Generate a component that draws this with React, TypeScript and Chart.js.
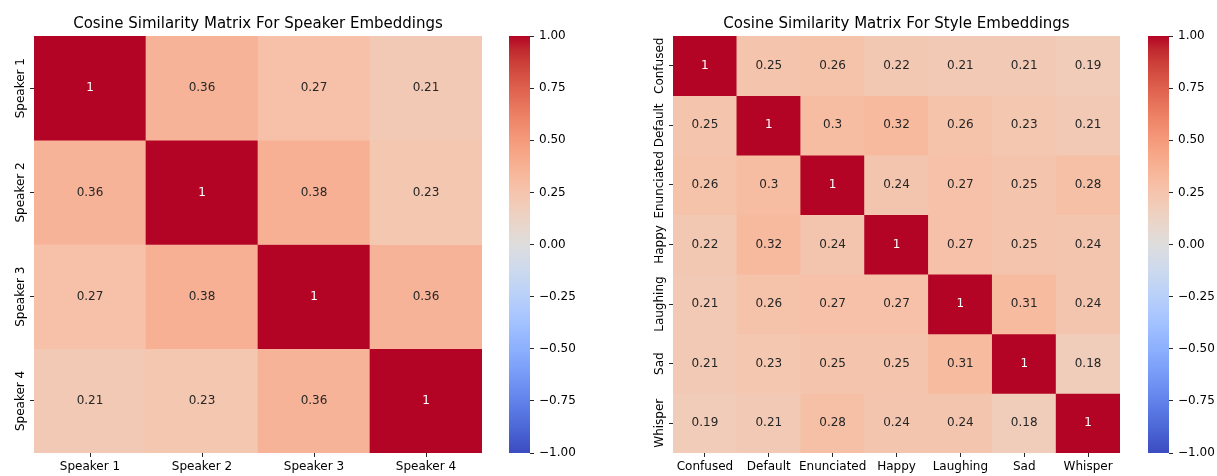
import React, { useEffect, useRef } from "react";
import { Chart, registerables } from "chart.js";

Chart.register(...registerables);

// ---- data ----
const speakerLabels = ["Speaker 1", "Speaker 2", "Speaker 3", "Speaker 4"];
const speakerSimilarity = [
  [1, 0.36, 0.27, 0.21],
  [0.36, 1, 0.38, 0.23],
  [0.27, 0.38, 1, 0.36],
  [0.21, 0.23, 0.36, 1],
];

const styleLabels = ["Confused", "Default", "Enunciated", "Happy", "Laughing", "Sad", "Whisper"];
const styleSimilarity = [
  [1, 0.25, 0.26, 0.22, 0.21, 0.21, 0.19],
  [0.25, 1, 0.3, 0.32, 0.26, 0.23, 0.21],
  [0.26, 0.3, 1, 0.24, 0.27, 0.25, 0.28],
  [0.22, 0.32, 0.24, 1, 0.27, 0.25, 0.24],
  [0.21, 0.26, 0.27, 0.27, 1, 0.31, 0.24],
  [0.21, 0.23, 0.25, 0.25, 0.31, 1, 0.18],
  [0.19, 0.21, 0.28, 0.24, 0.24, 0.18, 1],
];

const colorMin = -1;
const colorMax = 1;
const colorStep = 0.25;

// ---- styling ----
const FONT = '"DejaVu Sans", "Liberation Sans", sans-serif';
const TICK_COLOR = "#000000";
const WIDTH = 1217;
const HEIGHT = 476;

// Diverging cool-warm colour table (blue -> grey -> red), 33 evenly spaced stops
const COOLWARM: number[][] = [
  [59, 76, 192], [68, 90, 204], [77, 104, 215], [87, 117, 225],
  [98, 130, 234], [108, 142, 241], [119, 154, 247], [130, 165, 251],
  [141, 176, 254], [152, 185, 255], [163, 194, 255], [174, 201, 253],
  [184, 208, 249], [194, 213, 244], [204, 217, 238], [213, 219, 230],
  [221, 221, 221], [229, 216, 209], [236, 211, 197], [241, 204, 184],
  [245, 196, 172], [247, 187, 160], [247, 177, 148], [247, 166, 135],
  [244, 154, 123], [241, 141, 111], [236, 127, 99], [229, 112, 88],
  [222, 96, 77], [213, 80, 66], [203, 62, 56], [192, 40, 47],
  [180, 4, 38],
];

function coolwarmRGB(v: number): number[] {
  let t = (v - colorMin) / (colorMax - colorMin);
  t = Math.max(0, Math.min(1, t));
  const pos = t * (COOLWARM.length - 1);
  const i = Math.min(Math.floor(pos), COOLWARM.length - 2);
  const f = pos - i;
  const a = COOLWARM[i];
  const b = COOLWARM[i + 1];
  return [0, 1, 2].map((k) => Math.round(a[k] + (b[k] - a[k]) * f));
}

function coolwarm(v: number): string {
  const [r, g, b] = coolwarmRGB(v);
  return `rgb(${r},${g},${b})`;
}

function luminance(rgb: number[]): number {
  const lin = rgb.map((c) => {
    const s = c / 255;
    return s <= 0.03928 ? s / 12.92 : Math.pow((s + 0.055) / 1.055, 2.4);
  });
  return 0.2126 * lin[0] + 0.7152 * lin[1] + 0.0722 * lin[2];
}

// two significant digits, trailing zeros dropped
function fmtValue(v: number): string {
  return String(Number(v.toPrecision(2)));
}

function fmtColorTick(v: number): string {
  return v.toFixed(2).replace("-", "\u2212");
}

// Writes each cell's value in its centre
const cellValuesPlugin = {
  id: "cellValues",
  afterDatasetsDraw(chart: any, _args: any, opts: any) {
    const ctx = chart.ctx;
    const matrix: number[][] = opts.matrix;
    ctx.save();
    ctx.font = `12px ${FONT}`;
    ctx.textAlign = "center";
    ctx.textBaseline = "middle";
    matrix.forEach((row, r) => {
      const meta = chart.getDatasetMeta(r);
      row.forEach((v, c) => {
        const el = meta.data[c];
        if (!el) return;
        const cy = (el.y + el.base) / 2;
        ctx.fillStyle = luminance(coolwarmRGB(v)) > 0.408 ? "#262626" : "#ffffff";
        ctx.fillText(fmtValue(v), el.x, cy);
      });
    });
    ctx.restore();
  },
};

// Vertical row labels next to the y-axis tick marks
const rowLabelsPlugin = {
  id: "rowLabels",
  afterDraw(chart: any, _args: any, opts: any) {
    const scale = chart.scales.y;
    const ctx = chart.ctx;
    const labels: string[] = opts.labels;
    ctx.save();
    ctx.font = `12px ${FONT}`;
    ctx.fillStyle = TICK_COLOR;
    ctx.textAlign = "center";
    ctx.textBaseline = "alphabetic";
    const x = scale.right - 4 - opts.gap;
    scale.ticks.forEach((t: any, i: number) => {
      const py = scale.getPixelForValue(t.value);
      ctx.save();
      ctx.translate(x, py);
      ctx.rotate(-Math.PI / 2);
      ctx.fillText(labels[i], 0, 0);
      ctx.restore();
    });
    ctx.restore();
  },
};

function heatmapConfig(title: string, labels: string[], matrix: number[][], axisWidth: number, padRight: number): any {
  const n = labels.length;
  return {
    type: "bar",
    data: {
      labels,
      datasets: matrix.map((row, r) => ({
        label: labels[r],
        data: row.map(() => [r, r + 1]),
        backgroundColor: row.map((v) => coolwarm(v)),
        borderWidth: 0,
        barPercentage: 1,
        categoryPercentage: 1,
        grouped: false,
      })),
    },
    options: {
      responsive: false,
      animation: false,
      events: [],
      layout: { padding: { left: 0, right: padRight, top: 0, bottom: 0 } },
      plugins: {
        legend: { display: false },
        tooltip: { enabled: false },
        title: {
          display: true,
          text: title,
          fullSize: false,
          color: TICK_COLOR,
          font: { family: FONT, size: 15, weight: "normal", lineHeight: 1.2 },
          padding: { top: 15, bottom: 3 },
        },
        cellValues: { matrix },
        rowLabels: { labels, gap: 6 },
      },
      scales: {
        x: {
          type: "category",
          offset: true,
          grid: { offset: false, drawOnChartArea: false, drawTicks: true, tickLength: 4, color: "#262626", lineWidth: 1 },
          border: { display: false },
          ticks: { font: { family: FONT, size: 12 }, color: TICK_COLOR, padding: 3, autoSkip: false, maxRotation: 0, minRotation: 0 },
          afterFit: (s: any) => {
            s.height = 23;
          },
        },
        y: {
          type: "linear",
          min: 0,
          max: n,
          reverse: true,
          afterBuildTicks: (s: any) => {
            s.ticks = labels.map((_, i) => ({ value: i + 0.5 }));
          },
          ticks: { display: false },
          grid: { drawOnChartArea: false, drawTicks: true, tickLength: 4, color: "#262626", lineWidth: 1 },
          border: { display: false },
          afterFit: (s: any) => {
            s.width = axisWidth;
          },
        },
      },
    },
    plugins: [cellValuesPlugin, rowLabelsPlugin],
  };
}

function colorbarConfig(padLeft: number, axisWidth: number): any {
  const fill = (c: any) => {
    const area = c.chart.chartArea;
    if (!area) return "transparent";
    const g = c.chart.ctx.createLinearGradient(0, area.bottom, 0, area.top);
    COOLWARM.forEach((rgb, i) => {
      g.addColorStop(i / (COOLWARM.length - 1), `rgb(${rgb[0]},${rgb[1]},${rgb[2]})`);
    });
    return g;
  };
  return {
    type: "bar",
    data: {
      labels: [""],
      datasets: [
        {
          data: [[colorMin, colorMax]],
          backgroundColor: fill,
          borderWidth: 0,
          barPercentage: 1,
          categoryPercentage: 1,
        },
      ],
    },
    options: {
      responsive: false,
      animation: false,
      events: [],
      layout: { padding: { left: padLeft, right: 0, top: 36, bottom: 23 } },
      plugins: { legend: { display: false }, tooltip: { enabled: false } },
      scales: {
        x: { display: false },
        y: {
          position: "right",
          min: colorMin,
          max: colorMax,
          ticks: {
            stepSize: colorStep,
            font: { family: FONT, size: 12 },
            color: TICK_COLOR,
            padding: 5,
            callback: (v: any) => fmtColorTick(Number(v)),
          },
          grid: { drawOnChartArea: false, drawTicks: true, tickLength: 4, color: "#262626", lineWidth: 1 },
          border: { display: false },
          afterFit: (s: any) => {
            s.width = axisWidth;
          },
        },
      },
    },
  };
}

function ChartCanvas({ left, width, config }: { left: number; width: number; config: () => any }) {
  const ref = useRef<HTMLCanvasElement>(null);
  useEffect(() => {
    if (!ref.current) return;
    const chart = new Chart(ref.current, config());
    return () => chart.destroy();
  }, []);
  return (
    <canvas
      ref={ref}
      width={width}
      height={HEIGHT}
      style={{ position: "absolute", left, top: 0, width, height: HEIGHT, display: "block" }}
    />
  );
}

export default function App() {
  return (
    <div style={{ position: "fixed", left: 0, top: 0, width: WIDTH, height: HEIGHT, background: "#ffffff", overflow: "hidden" }}>
      <ChartCanvas
        left={0}
        width={500}
        config={() => heatmapConfig("Cosine Similarity Matrix For Speaker Embeddings", speakerLabels, speakerSimilarity, 34, 18)}
      />
      <ChartCanvas left={500} width={100} config={() => colorbarConfig(9, 70)} />
      <ChartCanvas
        left={600}
        width={540}
        config={() => heatmapConfig("Cosine Similarity Matrix For Style Embeddings", styleLabels, styleSimilarity, 73, 20)}
      />
      <ChartCanvas left={1140} width={77} config={() => colorbarConfig(8, 48)} />
    </div>
  );
}
